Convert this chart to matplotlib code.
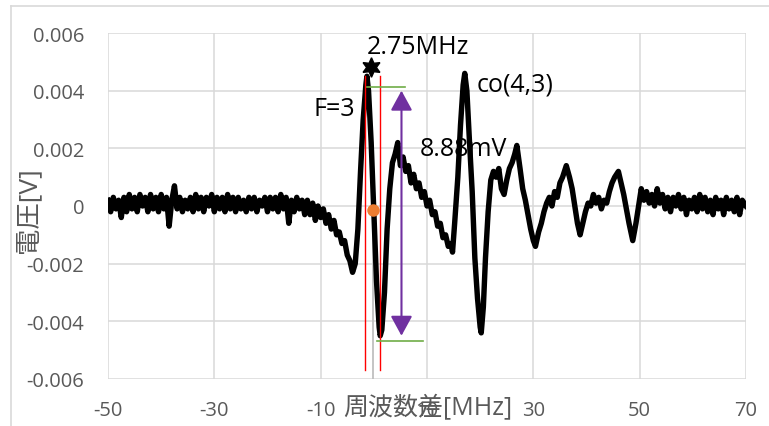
import matplotlib
matplotlib.use("Agg")
import matplotlib.pyplot as plt
from matplotlib.lines import Line2D

plt.rcParams['font.family'] = ['Open Sans', 'Noto Sans CJK JP', 'DejaVu Sans']

# ---- data ----
freq = [
    -50.0, -49.5, -49.0, -48.5, -48.0, -47.5, -47.0, -46.5, -46.0, -45.5,
    -45.0, -44.5, -44.0, -43.5, -43.0, -42.5, -42.0, -41.5, -41.0, -40.5,
    -40.0, -39.5, -39.0, -38.5, -38.0, -37.5, -37.0, -36.5, -36.0, -35.5,
    -35.0, -34.5, -34.0, -33.5, -33.0, -32.5, -32.0, -31.5, -31.0, -30.5,
    -30.0, -29.5, -29.0, -28.5, -28.0, -27.5, -27.0, -26.5, -26.0, -25.5,
    -25.0, -24.5, -24.0, -23.5, -23.0, -22.5, -22.0, -21.5, -21.0, -20.5,
    -20.0, -19.5, -19.0, -18.5, -18.0, -17.5, -17.0, -16.5, -16.0, -15.5,
    -15.0, -14.5, -14.0, -13.5, -13.0, -12.5, -12.0, -11.5, -11.0, -10.5,
    -10.0, -9.5, -9.0, -8.5, -8.0, -7.5, -7.0, -6.5, -6.0, -5.5,
    -5.0, -4.5, -4.0, -3.5, -3.0, -2.5, -2.0, -1.5, -1.3, -1.0,
    -0.5, 0.0, 0.5, 1.0, 1.2, 1.5, 2.0, 2.5, 3.0, 3.5,
    4.0, 4.5, 5.0, 5.5, 6.0, 6.5, 7.0, 7.5, 8.0, 8.5,
    9.0, 9.5, 10.0, 10.5, 11.0, 11.5, 12.0, 12.5, 13.0, 13.5,
    14.0, 14.5, 14.8, 15.2, 15.8, 16.3, 16.8, 17.1, 17.5, 18.0,
    18.5, 19.0, 19.5, 20.0, 20.2, 20.6, 21.0, 21.5, 22.0, 22.5,
    23.0, 23.5, 24.0, 24.5, 25.0, 25.5, 26.0, 26.5, 26.9, 27.5,
    28.0, 28.5, 29.0, 29.5, 30.0, 30.4, 31.0, 31.5, 32.0, 32.5,
    33.0, 33.5, 34.0, 34.5, 35.0, 35.5, 36.2, 36.8, 37.3, 37.8,
    38.3, 38.8, 39.3, 39.8, 40.3, 40.8, 41.3, 41.8, 42.3, 42.8,
    43.3, 43.8, 44.3, 44.8, 45.3, 46.0, 46.5, 47.0, 47.5, 48.0,
    48.7, 49.3, 49.8, 50.3, 50.8, 51.3, 51.8, 52.3, 52.8, 53.3,
    53.8, 54.3, 54.8, 55.3, 55.8, 56.3, 56.8, 57.3, 57.8, 58.3,
    58.8, 59.3, 59.8, 60.3, 60.8, 61.3, 61.8, 62.3, 62.8, 63.3,
    63.8, 64.3, 64.8, 65.3, 65.8, 66.3, 66.8, 67.3, 67.8, 68.3,
    68.8, 69.3, 70.0,
]
voltage = [
    0.0002, -0.0002, 0.0003, -0.0001, 0.0002, -0.0004, 0.0003, -0.0002, 0.0004, -0.0001,
    0.0003, -0.0002, 0.0004, 0.0000, 0.0003, -0.0002, 0.0004, -0.0001, 0.0003, -0.0002,
    0.0004, -0.0001, 0.0003, -0.0007, 0.0002, 0.0007, -0.0001, 0.0003, -0.0002, 0.0002,
    -0.0001, 0.0003, -0.0002, 0.0004, -0.0001, 0.0003, -0.0002, 0.0003, 0.0000, 0.0004,
    -0.0002, 0.0003, -0.0001, 0.0003, -0.0002, 0.0004, -0.0001, 0.0003, -0.0002, 0.0003,
    -0.0001, 0.0002, -0.0002, 0.0003, -0.0001, 0.0003, -0.0002, 0.0002, 0.0000, 0.0003,
    -0.0002, 0.0003, -0.0001, 0.0003, -0.0002, 0.0004, -0.0001, 0.0003, -0.0006, 0.0002,
    -0.0002, 0.0003, -0.0001, 0.0002, -0.0003, 0.0002, -0.0003, 0.0001, -0.0005, 0.0000,
    -0.0004, -0.0001, -0.0006, -0.0003, -0.0008, -0.0005, -0.0010, -0.0009, -0.0013, -0.0012,
    -0.0017, -0.0019, -0.0023, -0.0020, -0.0008, 0.0012, 0.0030, 0.0042, 0.0045, 0.0040,
    0.0022, -0.0002, -0.0026, -0.0042, -0.0045, -0.0043, -0.0030, -0.0008, 0.0006, 0.0015,
    0.0018, 0.0022, 0.0014, 0.0017, 0.0012, 0.0014, 0.0008, 0.0011, 0.0006, 0.0008,
    0.0003, 0.0005, 0.0000, 0.0002, -0.0003, -0.0002, -0.0007, -0.0006, -0.0011, -0.0010,
    -0.0014, -0.0013, -0.0016, -0.0006, 0.0010, 0.0028, 0.0042, 0.0046, 0.0040, 0.0022,
    0.0005, -0.0018, -0.0032, -0.0042, -0.0044, -0.0035, -0.0018, -0.0002, 0.0009, 0.0012,
    0.0010, 0.0013, 0.0006, 0.0004, 0.0009, 0.0013, 0.0015, 0.0018, 0.0021, 0.0013,
    0.0006, 0.0002, -0.0003, -0.0008, -0.0012, -0.0014, -0.0009, -0.0006, -0.0002, 0.0001,
    0.0003, 0.0000, 0.0005, 0.0003, 0.0008, 0.0010, 0.0014, 0.0010, 0.0006, 0.0000,
    -0.0006, -0.0010, -0.0006, -0.0002, 0.0001, 0.0000, 0.0004, 0.0001, 0.0003, -0.0001,
    0.0002, 0.0001, 0.0005, 0.0008, 0.0010, 0.0012, 0.0008, 0.0004, -0.0001, -0.0006,
    -0.0012, -0.0006, 0.0000, 0.0006, 0.0002, 0.0005, 0.0001, 0.0004, 0.0000, 0.0006,
    0.0001, 0.0004, -0.0001, 0.0003, -0.0002, 0.0003, 0.0000, 0.0004, -0.0001, 0.0003,
    -0.0003, 0.0002, -0.0001, 0.0003, -0.0002, 0.0004, -0.0001, 0.0003, -0.0002, 0.0002,
    -0.0003, 0.0003, -0.0001, 0.0002, -0.0003, 0.0003, -0.0001, 0.0002, -0.0002, 0.0003,
    -0.0003, 0.0002, 0.0000,
]

x_ticks = [-50, -30, -10, 10, 30, 50, 70]
y_ticks = [-0.006, -0.004, -0.002, 0.0, 0.002, 0.004, 0.006]
y_tick_labels = ['-0.006', '-0.004', '-0.002', '0', '0.002', '0.004', '0.006']

red_lines_x = [-1.65, 1.15]
red_lines_y = [-0.0057, 0.0045]
peak_star = (-0.55, 0.00482)
center_dot = (-0.1, -0.00015)
green_top = ([-1.3, 5.9], 0.00414)
green_bottom = ([0.6, 9.3], -0.00468)
arrow_x = 5.2
arrow_y = (0.0040, -0.0045)

labels = {
    '2.75MHz': (8.25, 0.00553),
    'F=3': (-7.4, 0.00337),
    'co(4,3)': (26.5, 0.00424),
    '8.88mV': (16.85, 0.00198),
}

# ---- figure ----
W, H = 769, 427
fig = plt.figure(figsize=(W / 100, H / 100), dpi=100)
ax = fig.add_axes([108 / W, 1 - 380 / H, (746 - 108) / W, (380 - 34) / H])

ax.set_xlim(-50, 70)
ax.set_ylim(-0.006, 0.006)
ax.set_xticks(x_ticks)
ax.set_xticklabels([str(v) for v in x_ticks])
ax.set_yticks(y_ticks)
ax.set_yticklabels(y_tick_labels)
ax.tick_params(length=0, labelsize=14.5, labelcolor='#595959')
ax.tick_params(axis='y', pad=17)
ax.tick_params(axis='x', pad=15)
for s in ax.spines.values():
    s.set_visible(False)
ax.grid(True, color='#d9d9d9', lw=1.1)
ax.set_axisbelow(True)

# axis line at x=0 below the dot
ax.plot([center_dot[0], center_dot[0]], [-0.006, center_dot[1]], color='#bfbfbf', lw=1.3, zorder=1)

# trace
ax.plot(freq, voltage, color='black', lw=3.9, solid_joinstyle='round', zorder=3)

# red lines
for xr in red_lines_x:
    ax.plot([xr, xr], red_lines_y, color='red', lw=1.0, zorder=4)

# green lines
ax.plot(green_top[0], [green_top[1]] * 2, color='#70ad47', lw=1.2, zorder=4)
ax.plot(green_bottom[0], [green_bottom[1]] * 2, color='#70ad47', lw=1.2, zorder=4)

# purple double arrow
ax.annotate('', xy=(arrow_x, arrow_y[0]), xytext=(arrow_x, arrow_y[1]),
            arrowprops=dict(arrowstyle='<|-|>,head_length=0.55,head_width=0.3',
                            color='#7030a0', lw=1.5, mutation_scale=22,
                            shrinkA=0, shrinkB=0), zorder=5)

# star and dot
ax.plot([peak_star[0]], [peak_star[1]], marker=(6, 1, 0), color='black',
        markersize=14, zorder=6, clip_on=False)
ax.plot([center_dot[0]], [center_dot[1]], marker='o', color='#ed7d31',
        markersize=9, markeredgewidth=0, zorder=6)

for txt, (tx, ty) in labels.items():
    ax.text(tx, ty, txt, fontsize=18, color='black', ha='center', va='center', zorder=7)

# axis titles
fig.text(428 / W, 1 - 408 / H, '周波数差[MHz]', fontsize=18, color='#595959',
         ha='center', va='center')
fig.text(28 / W, 1 - 210 / H, '電圧[V]', fontsize=19, color='#595959',
         ha='center', va='center', rotation=90)

# chart area border
fig.add_artist(Line2D([11 / W, 11 / W], [0, 1 - 7 / H], color='#d9d9d9', lw=1.2,
                      transform=fig.transFigure))
fig.add_artist(Line2D([11 / W, 1], [1 - 7 / H, 1 - 7 / H], color='#d9d9d9', lw=1.2,
                      transform=fig.transFigure))

fig.savefig('out.png', dpi=100)
